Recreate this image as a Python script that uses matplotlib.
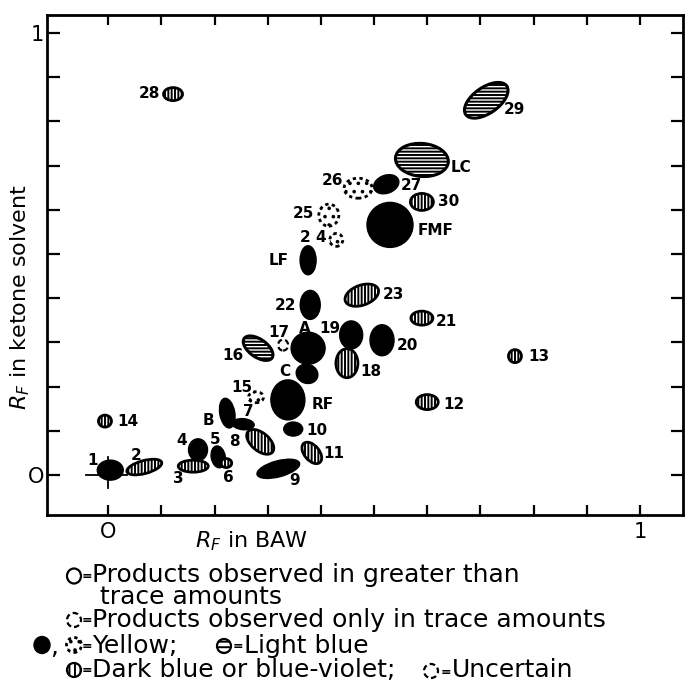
import numpy as np
import matplotlib
matplotlib.use("Agg")
import matplotlib.pyplot as plt
from matplotlib.patches import Ellipse
import matplotlib.transforms as mtransforms

# spots: name, Rf in BAW, Rf in ketone solvent, kind
spot_names = ["1", "2", "3", "4", "5", "6", "B", "7", "8", "9", "10", "11",
              "12", "13", "14", "15", "16", "17", "A", "C", "RF", "18", "19",
              "20", "21", "22", "23", "LF", "2 4", "25", "FMF", "30", "26",
              "27", "LC", "29", "28"]
rf_baw = [0.004, 0.068, 0.160, 0.169, 0.207, 0.222, 0.224, 0.254, 0.286,
          0.320, 0.348, 0.383, 0.600, 0.765, -0.006, 0.278, 0.282, 0.329,
          0.376, 0.374, 0.338, 0.449, 0.457, 0.515, 0.590, 0.380, 0.477,
          0.376, 0.429, 0.415, 0.530, 0.590, 0.470, 0.523, 0.590, 0.711,
          0.122]
rf_ketone = [0.011, 0.018, 0.020, 0.057, 0.041, 0.027, 0.140, 0.115, 0.075,
             0.014, 0.104, 0.050, 0.165, 0.269, 0.122, 0.176, 0.287, 0.294,
             0.287, 0.229, 0.170, 0.253, 0.317, 0.305, 0.355, 0.385, 0.407,
             0.486, 0.532, 0.588, 0.566, 0.618, 0.649, 0.658, 0.713, 0.848,
             0.862]
# solid = yellow, trace = yellow (trace only), hh = light blue, vh = dark blue
spot_kind = ["solid", "vh", "vh", "solid", "solid", "vh", "solid", "solid",
             "vh", "solid", "solid", "vh", "vh", "vh", "vh", "trace", "hh",
             "uncertain", "solid", "solid", "solid", "vh", "solid", "solid",
             "vh", "solid", "vh", "solid", "trace", "trace", "solid", "vh",
             "trace", "solid", "hh", "hh", "vh"]

# spot shape on the paper (pixels) and label offsets (pixels)
spot_w = [26, 36, 30, 19, 14, 11, 15, 22, 32, 44, 19, 25, 22, 13, 13, 15, 34,
          10, 34, 22, 34, 22, 23, 24, 22, 20, 35, 16, 13, 20, 46, 23, 28, 26,
          53, 50, 19]
spot_h = [20, 13, 12, 22, 22, 9, 30, 11, 18, 16, 14, 15, 15, 13, 12, 11, 18,
          11, 32, 19, 40, 29, 28, 31, 14, 29, 20, 29, 13, 22, 45, 17, 20, 18,
          33, 26, 13]
spot_angle = [0, 15, 0, 0, 10, 0, 10, -5, -40, 15, 0, -50, 0, 0, 0, 0, -35,
              0, 0, -20, 0, 0, 0, 0, 0, 0, 20, 0, 0, 0, 0, 0, 0, 20, -5, 35, 0]
label_dx = [-18, -8, -15, -16, -3, 2, -19, 5, -26, 16, 24, 22, 27, 24, 23,
            -14, -25, -4, -3, -22, 35, 24, -21, 25, 24, -25, 32, -29, -23,
            -25, 46, 27, -26, 25, 39, 28, -24]
label_dy = [10, 12, -12, 9, 17, -14, -7, 13, 0, -12, -1, -1, -2, 0, 0, 10, -7,
            13, 20, 2, -5, -8, 6, -5, -3, -1, 1, 0, 2, 2, -6, 0, 8, -1, -8,
            -9, 1]

origin = (0.0, 0.0)

plt.rcParams['font.family'] = ['DejaVu Sans']
plt.rcParams['hatch.linewidth'] = 1.4

fig = plt.figure(figsize=(6.86, 6.83), dpi=100)
ax = fig.add_axes([47 / 686, 1 - 515 / 683, 636 / 686, 500 / 683])
ax.set_xlim(-0.115, 1.081)
ax.set_ylim(-0.0905, 1.041)

styles = {
    "solid": dict(facecolor="black", edgecolor="black", lw=1.0),
    "vh": dict(facecolor="white", edgecolor="black", lw=2.0, hatch="|||||"),
    "hh": dict(facecolor="white", edgecolor="black", lw=2.2, hatch="-----"),
    "trace": dict(facecolor="white", edgecolor="black", lw=2.0, hatch="..",
                  linestyle=(0, (1.2, 1.2))),
    "uncertain": dict(facecolor="none", edgecolor="black", lw=1.6,
                      linestyle=(0, (2.5, 1.5))),
    "open": dict(facecolor="none", edgecolor="black", lw=1.6),
}


def spot(x, y, w, h, angle, kind, base):
    tr = fig.dpi_scale_trans + mtransforms.ScaledTranslation(x, y, base)
    return Ellipse((0, 0), w / 100, h / 100, angle=angle, transform=tr,
                   **styles[kind])


for i, name in enumerate(spot_names):
    ax.add_artist(spot(rf_baw[i], rf_ketone[i], spot_w[i], spot_h[i],
                       spot_angle[i], spot_kind[i], ax.transData))
    ax.annotate(name, (rf_baw[i], rf_ketone[i]),
                xytext=(label_dx[i], label_dy[i]), textcoords="offset pixels",
                ha="center", va="center", fontsize=11, fontweight="bold")

# cross marking the point of application
ax.plot([origin[0] - 0.041, origin[0] + 0.036], [origin[1], origin[1]],
        color="black", lw=1.3)
ax.plot([origin[0], origin[0]], [origin[1] - 0.03, origin[1] + 0.04],
        color="black", lw=1.3)

ticks = np.round(np.arange(0, 1.01, 0.1), 1)
tick_labels = ["O"] + [""] * 9 + ["1"]
ax.set_xticks(ticks)
ax.set_xticklabels(tick_labels, fontsize=15)
ax.set_yticks(ticks)
ax.set_yticklabels(tick_labels, fontsize=15)
ax.tick_params(direction="in", top=True, right=True, length=7, width=1.6,
               pad=5)
ax.tick_params(axis="y", length=9, pad=2)
for s in ax.spines.values():
    s.set_linewidth(2.0)

ax.set_xlabel(r"$R_F$ in BAW", fontsize=16)
ax.xaxis.set_label_coords((252 - 47) / 636, -(529 - 515) / 500)
ax.set_ylabel(r"$R_F$ in ketone solvent", fontsize=16)
ax.yaxis.set_label_coords(-(47 - 32) / 636, (515 - 297) / 500)


# key below the chart
def fpos(px, py):
    return px / 686, 1 - py / 683


def key_symbol(px, py, w, h, kind):
    fx, fy = fpos(px, py)
    e = spot(fx, fy, w, h, 0, kind, fig.transFigure)
    if kind == "vh":
        e.set_hatch("|||")
        e.set_linewidth(1.6)
    if kind == "hh":
        e.set_hatch("---")
        e.set_linewidth(1.6)
    fig.add_artist(e)


def key_text(px, py, s, size=18):
    fx, fy = fpos(px, py)
    fig.text(fx, fy, s, fontsize=size, ha="left", va="center")


def key_eq(px, py):
    fx, fy = fpos(px, py)
    fig.text(fx, fy, "=", fontsize=9, fontweight="bold", ha="center",
             va="center")


key_symbol(74, 576, 14, 15, "open")
key_eq(87, 577)
key_text(92, 575, "Products observed in greater than")
key_text(100, 597, "trace amounts")
key_symbol(74, 620, 14, 14, "uncertain")
key_eq(87, 621)
key_text(92, 620, "Products observed only in trace amounts")
key_symbol(42, 645, 16, 17, "solid")
key_text(50, 647, ",")
key_symbol(74, 645, 15, 15, "trace")
key_eq(87, 646)
key_text(92, 646, "Yellow;")
key_symbol(224, 646, 14, 14, "hh")
key_eq(238, 647)
key_text(244, 646, "Light blue")
key_symbol(74, 670, 14, 14, "vh")
key_eq(87, 671)
key_text(92, 670, "Dark blue or blue-violet;")
key_symbol(431, 671, 14, 14, "uncertain")
key_eq(446, 672)
key_text(452, 670, "Uncertain")

fig.savefig("out.png", dpi=100)
